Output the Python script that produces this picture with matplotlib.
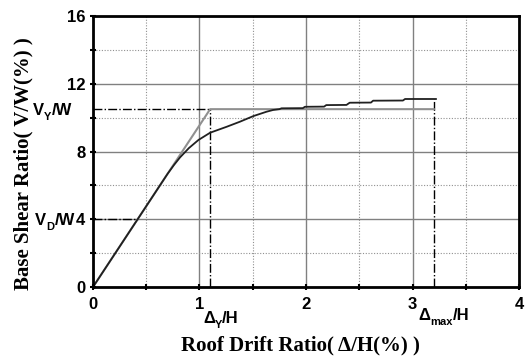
import matplotlib
matplotlib.use("Agg")
import matplotlib.pyplot as plt
import numpy as np

# Data
curve_x = [0.0, 0.70, 0.76, 0.817, 0.90, 0.99, 1.10, 1.255, 1.38, 1.505, 1.63, 1.69,
           1.75, 1.77, 1.97, 1.99, 2.17, 2.19, 2.38, 2.41, 2.61, 2.63, 2.91, 2.93, 3.22]
curve_y = [0.0, 6.68, 7.2, 7.65, 8.2, 8.68, 9.11, 9.46, 9.76, 10.09, 10.35, 10.45,
           10.5, 10.55, 10.56, 10.64, 10.65, 10.74, 10.75, 10.88, 10.89, 11.0, 11.01, 11.1, 11.1]
bilinear_x = [0.0, 1.1, 3.2]
bilinear_y = [0.0, 10.5, 10.5]
dy = 1.1
dmax = 3.2
vy = 10.5
vd = 4.0
vmax = 11.1
xticks = [0, 1, 2, 3, 4]
yticks = [0, 4, 8, 12, 16]

DPI = 100
fig = plt.figure(figsize=(5.26, 3.58), dpi=DPI)
ax = fig.add_axes([0.1768, 0.1983, 0.8099, 0.757])

ax.set_xlim(0, 4)
ax.set_ylim(0, 16)
ax.set_xticks(xticks)
ax.set_yticks(yticks)
ax.set_xticks(np.arange(0.5, 4, 1.0), minor=True)
ax.set_yticks(np.arange(2, 16, 4), minor=True)
ax.grid(True, which="major", color="#808080", lw=1.0, ls="-")
ax.grid(True, which="minor", color="#909090", lw=0.8, ls=(0, (1, 1.5)))
ax.set_axisbelow(True)

sans = "Liberation Sans"
for lbl in ax.get_xticklabels() + ax.get_yticklabels():
    lbl.set_fontfamily(sans)
    lbl.set_fontweight("bold")
    lbl.set_fontsize(12)
ax.tick_params(which="both", direction="inout", length=5, width=1.5)
ax.tick_params(axis="x", pad=5)
ax.tick_params(axis="y", pad=3)
ax.tick_params(which="minor", length=4)
for s in ax.spines.values():
    s.set_linewidth(2)

# Reference dash-dot lines
ax.plot([0, dy], [vy, vy], color="black", lw=1.0, ls="-.")
ax.plot([dy, dy], [0, vy], color="black", lw=1.0, ls="-.")
ax.plot([0, vd / vy * dy], [vd, vd], color="black", lw=1.0, ls="-.")
ax.plot([dmax, dmax], [0, vmax], color="black", lw=1.0, ls="-.")

ax.plot(bilinear_x, bilinear_y, color="#909090", lw=1.5)
ax.plot(curve_x, curve_y, color="#202020", lw=1.3)

ax.set_xlabel("Roof Drift Ratio( Δ/H(%) )", family="Liberation Serif",
              fontweight="bold", fontsize=15)
ax.set_ylabel("Base Shear Ratio( V/W(%) )", family="Liberation Serif",
              fontweight="bold", fontsize=15)
ax.xaxis.set_label_coords(0.488, -0.18)
ax.yaxis.set_label_coords(-0.14, 0.454)

renderer = fig.canvas.get_renderer()


def compose(x, y, pieces, align="left"):
    """pieces: list of (string, fontsize, vertical offset in points)."""
    texts, widths = [], []
    for s, size, dyp in pieces:
        t = ax.annotate(s, (x, y), xycoords="data", xytext=(0, dyp),
                        textcoords="offset points", fontsize=size,
                        family=sans, fontweight="bold", ha="left",
                        va="baseline", annotation_clip=False)
        w = t.get_window_extent(renderer).width * 72.0 / DPI
        texts.append(t)
        widths.append(w)
    total = sum(widths)
    start = -total if align == "right" else 0.0
    for t, w, (s, size, dyp) in zip(texts, widths, pieces):
        t.xyann = (start, dyp)
        start += w


MAIN, SUB, DROP = 12, 8, -3.5
compose(-0.197, 10.15, [("V", MAIN, 0), ("Y", SUB, DROP), ("/W", MAIN, 0)], align="right")
compose(-0.169, 3.66, [("V", MAIN, 0), ("D", SUB, DROP), ("/W", MAIN, 0)], align="right")
compose(1.033, -2.125, [("Δ", MAIN, 0), ("Y", SUB, DROP), ("/H", MAIN, 0)])
compose(3.052, -1.95, [("Δ", MAIN, 0), ("max", SUB, DROP), ("/H", MAIN, 0)])

fig.savefig("out.png", dpi=DPI)
